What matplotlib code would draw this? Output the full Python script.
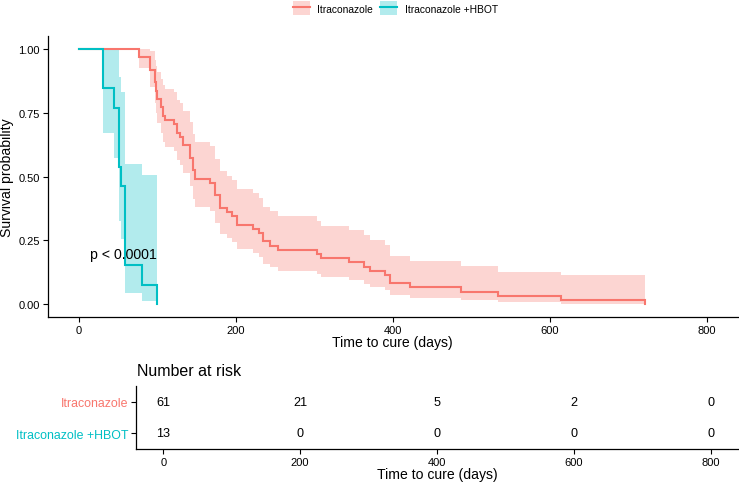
import numpy as np
import matplotlib
matplotlib.use("Agg")
import matplotlib.pyplot as plt
from matplotlib.patches import Patch
from matplotlib.lines import Line2D

plt.rcParams['font.family'] = ['Liberation Sans', 'DejaVu Sans']

# ---- data ----
groups = ["Itraconazole", "Itraconazole +HBOT"]
colors = ["#F8766D", "#00BFC4"]

itra_n = 61
itra_times = [76, 90, 97, 98, 100, 104, 107, 110, 121, 125, 129, 133, 142, 145, 148,
              167, 173, 180, 189, 195, 201, 222, 229, 235, 243, 254, 303, 309, 344,
              363, 371, 390, 396, 422, 487, 534, 615, 722]
itra_events = [2, 3, 3, 2, 2, 2, 2, 1, 1, 2, 1, 2, 3, 3, 2,
               1, 3, 3, 1, 1, 2, 1, 1, 2, 1, 1, 1, 1, 1,
               1, 1, 1, 2, 1, 1, 1, 1, 1]

hbot_n = 13
hbot_times = [30, 45, 51, 54, 59, 80, 99]
hbot_events = [2, 1, 3, 1, 4, 1, 1]

risk_times = [0, 200, 400, 600, 800]
risk_itra = [61, 21, 5, 2, 0]
risk_hbot = [13, 0, 0, 0, 0]

x_ticks = [0, 200, 400, 600, 800]
y_ticks = [0.0, 0.25, 0.5, 0.75, 1.0]
pval_text = "p < 0.0001"


def km(times, events, n):
    s, var = 1.0, 0.0
    S, lo, hi = [1.0], [1.0], [1.0]
    for t, d in zip(times, events):
        s *= (n - d) / n
        if n - d > 0:
            var += d / (n * (n - d))
        n -= d
        S.append(s)
        if s > 0:
            se = np.sqrt(var)
            lo.append(s * np.exp(-1.96 * se))
            hi.append(min(1.0, s * np.exp(1.96 * se)))
        else:
            lo.append(np.nan)
            hi.append(np.nan)
    return np.array([0] + list(times), float), np.array(S), np.array(lo), np.array(hi)


fig = plt.figure(figsize=(7.39, 4.85), dpi=100)
ax = fig.add_axes([0.0645, 0.3443, 0.934, 0.5794])
axr = fig.add_axes([0.184, 0.0722, 0.8146, 0.1298])

for (times, events, n), col, lab in zip(
        [(itra_times, itra_events, itra_n), (hbot_times, hbot_events, hbot_n)],
        colors, groups):
    t, S, lo, hi = km(times, events, n)
    blo = lo.copy(); bhi = hi.copy()
    if np.isnan(blo[-1]):
        blo[-1] = blo[-2]; bhi[-1] = bhi[-2]
    ax.fill_between(t, blo, bhi, step='post', color=col, alpha=0.3, lw=0)
    ax.step(t, S, where='post', color=col, lw=1.5, solid_joinstyle='miter')

ax.set_xlim(-40, 840)
ax.set_ylim(-0.05, 1.05)
ax.set_xticks(x_ticks)
ax.set_yticks(y_ticks)
ax.set_yticklabels([f"{v:.2f}" for v in y_ticks])
for sp in ['top', 'right']:
    ax.spines[sp].set_visible(False)
for sp in ['left', 'bottom']:
    ax.spines[sp].set_linewidth(0.9)
ax.tick_params(labelsize=8, length=3.5, width=0.8, colors='black', pad=2)
ax.set_xlabel("Time to cure (days)", fontsize=10.1, labelpad=0)
ax.set_ylabel("Survival probability", fontsize=10.1, labelpad=3)
ax.text(14, 0.195, pval_text, fontsize=10.2, ha='left', va='center')

# legend
handles = [(Patch(facecolor=c, alpha=0.3, edgecolor='none'), Line2D([], [], color=c, lw=1.5))
           for c in colors]
fig.legend(handles, groups, loc='center', bbox_to_anchor=(0.535, 0.981), ncol=2,
           frameon=False, fontsize=7.4, handlelength=1.65, handleheight=1.65,
           columnspacing=0.7, handletextpad=0.75)

# risk table
rows = [2, 1]
for yv, vals, col in zip(rows, [risk_itra, risk_hbot], colors):
    for tx, v in zip(risk_times, vals):
        axr.text(tx, yv, str(v), ha='center', va='center', fontsize=9.1)
axr.set_xlim(-40, 840)
axr.set_ylim(0.5, 2.5)
axr.set_xticks(x_ticks)
axr.set_yticks(rows)
axr.set_yticklabels(groups)
for lbl, col in zip(axr.get_yticklabels(), colors):
    lbl.set_color(col)
for sp in ['top', 'right']:
    axr.spines[sp].set_visible(False)
for sp in ['left', 'bottom']:
    axr.spines[sp].set_linewidth(0.9)
axr.tick_params(labelsize=8, length=3.5, width=0.8, pad=2)
axr.tick_params(axis='y', labelsize=8.9)
axr.set_xlabel("Time to cure (days)", fontsize=10.1, labelpad=0)
fig.text(0.1855, 0.233, "Number at risk", fontsize=11.5, ha='left', va='center')

fig.savefig("out.png", dpi=100)
